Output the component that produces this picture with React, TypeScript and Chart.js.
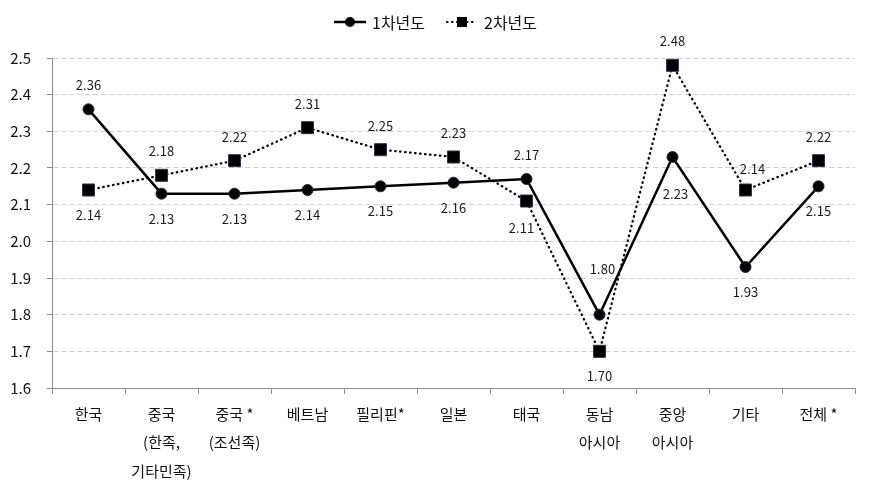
import React, { useEffect, useRef } from "react";
import { Chart, registerables } from "chart.js";

Chart.register(...registerables);

const categories: string[][] = [
  ["한국"],
  ["중국", "(한족,", "기타민족)"],
  ["중국 *", "(조선족)"],
  ["베트남"],
  ["필리핀*"],
  ["일본"],
  ["태국"],
  ["동남", "아시아"],
  ["중앙", "아시아"],
  ["기타"],
  ["전체 *"],
];
const seriesNames = ["1차년도", "2차년도"];
const year1 = [2.36, 2.13, 2.13, 2.14, 2.15, 2.16, 2.17, 1.8, 2.23, 1.93, 2.15];
const year2 = [2.14, 2.18, 2.22, 2.31, 2.25, 2.23, 2.11, 1.7, 2.48, 2.14, 2.22];
const year1LabelPos = ["up", "down", "down", "down", "down", "down", "up", "upFar", "downFar", "down", "down"];
const year2LabelPos = ["down", "up", "up", "up", "up", "up", "downLeft", "down", "up", "upRight", "up"];
const yMin = 1.6;
const yMax = 2.5;
const yStep = 0.1;

const FONT = "'Noto Sans CJK KR', 'Noto Sans', sans-serif";

const placement: Record<string, [number, number]> = {
  up: [0, -24],
  down: [0, 25],
  upFar: [3, -46],
  downFar: [3, 37],
  downLeft: [-5, 27],
  upRight: [7, -21],
};

const dataLabelPlugin = {
  id: "dataLabels",
  afterDatasetsDraw(chart: any) {
    const ctx = chart.ctx;
    const positions = [year1LabelPos, year2LabelPos];
    ctx.save();
    ctx.font = `13px ${FONT}`;
    ctx.fillStyle = "#1a1a1a";
    ctx.textAlign = "center";
    ctx.textBaseline = "middle";
    chart.data.datasets.forEach((ds: any, di: number) => {
      const meta = chart.getDatasetMeta(di);
      meta.data.forEach((pt: any, i: number) => {
        const v = ds.data[i] as number;
        const [dx, dy] = placement[positions[di][i]];
        ctx.fillText(v.toFixed(2), pt.x + dx, pt.y + dy);
      });
    });
    ctx.restore();
  },
};

const legendPlugin = {
  id: "customLegend",
  afterDraw(chart: any) {
    const ctx = chart.ctx;
    const y = 22;
    ctx.save();
    ctx.strokeStyle = "#000";
    ctx.lineWidth = 2.5;
    ctx.setLineDash([]);
    ctx.beginPath();
    ctx.moveTo(334, y);
    ctx.lineTo(366, y);
    ctx.stroke();
    ctx.fillStyle = "#000";
    ctx.beginPath();
    ctx.arc(350, y, 5, 0, Math.PI * 2);
    ctx.fill();
    ctx.lineWidth = 2.2;
    ctx.lineCap = "round";
    ctx.setLineDash([0.5, 4.5]);
    ctx.beginPath();
    ctx.moveTo(447, y);
    ctx.lineTo(477, y);
    ctx.stroke();
    ctx.setLineDash([]);
    ctx.fillRect(457, y - 5, 10, 10);
    ctx.font = `16px ${FONT}`;
    ctx.fillStyle = "#111";
    ctx.textAlign = "left";
    ctx.textBaseline = "middle";
    ctx.fillText(chart.data.datasets[0].label, 372, y + 1);
    ctx.fillText(chart.data.datasets[1].label, 484, y + 1);
    ctx.restore();
  },
};

export default function App() {
  const ref = useRef<HTMLCanvasElement | null>(null);
  useEffect(() => {
    document.body.style.margin = "0";
    const canvas = ref.current;
    if (!canvas) return;
    const chart = new Chart(canvas, {
      type: "line",
      data: {
        labels: categories,
        datasets: [
          {
            label: seriesNames[0],
            data: year1,
            borderColor: "#000",
            backgroundColor: "#000",
            borderWidth: 2.5,
            pointStyle: "circle",
            pointRadius: 5.5,
            pointBackgroundColor: "#000",
            pointBorderColor: "#2a1f35",
            pointBorderWidth: 1,
            tension: 0,
            fill: false,
          },
          {
            label: seriesNames[1],
            data: year2,
            borderColor: "#000",
            backgroundColor: "#000",
            borderWidth: 2.3,
            borderDash: [0.5, 4.5],
            borderCapStyle: "round",
            pointStyle: "rect",
            pointRadius: 8.5,
            pointBackgroundColor: "#000",
            pointBorderColor: "#3a2f48",
            pointBorderWidth: 1,
            tension: 0,
            fill: false,
          },
        ],
      },
      options: {
        responsive: false,
        animation: false,
        devicePixelRatio: 1,
        layout: { padding: { top: 58, right: 16, left: 0, bottom: 0 } },
        plugins: {
          legend: { display: false },
          tooltip: { enabled: false },
        },
        scales: {
          x: {
            offset: true,
            grid: {
              offset: true,
              drawOnChartArea: false,
              drawTicks: true,
              tickLength: 6,
              tickColor: "#8c8c8c",
              color: "#8c8c8c",
            },
            border: { color: "#8c8c8c", width: 1 },
            ticks: {
              color: "#111",
              padding: 6,
              maxRotation: 0,
              autoSkip: false,
              font: { family: FONT, size: 15, lineHeight: 1.9 },
            },
            afterFit(scale: any) {
              scale.height = 105;
            },
          },
          y: {
            min: yMin,
            max: yMax,
            grid: {
              color: "#d2d2d2",
              drawTicks: true,
              tickLength: 5,
              tickColor: "#8c8c8c",
              tickBorderDash: [],
            },
            border: { color: "#8c8c8c", width: 1, dash: [5, 3] },
            ticks: {
              stepSize: yStep,
              color: "#111",
              padding: 16,
              font: { family: FONT, size: 15 },
              callback: (v: any) => Number(v).toFixed(1),
            },
            afterFit(scale: any) {
              scale.width = 52;
            },
          },
        },
      },
      plugins: [dataLabelPlugin, legendPlugin],
    } as any);
    return () => chart.destroy();
  }, []);
  return (
    <div style={{ width: 871, height: 493, position: "relative" }}>
      <canvas ref={ref} width={871} height={493} style={{ display: "block" }} />
    </div>
  );
}
